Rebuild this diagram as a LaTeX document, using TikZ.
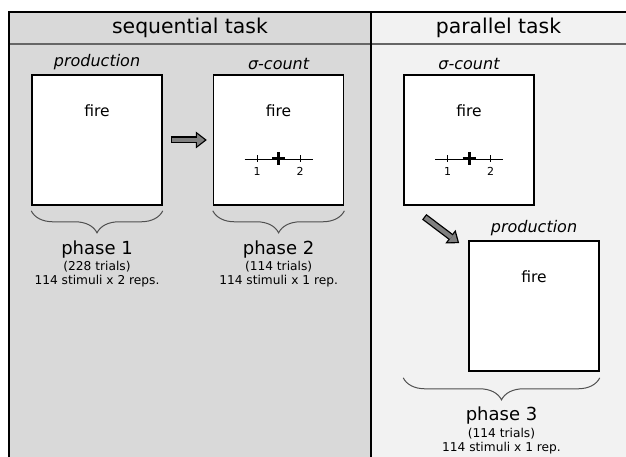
\documentclass[tikz,border=0pt]{standalone}
\usepackage{fontspec}
\setmainfont{DejaVu Sans}
\usetikzlibrary{positioning,calc,arrows.meta,decorations.pathreplacing}
\definecolor{seqbg}{HTML}{D9D9D9}
\definecolor{parbg}{HTML}{F2F2F2}
\definecolor{arrgray}{HTML}{808080}
\definecolor{bracegray}{HTML}{505050}

\begin{document}
\begin{tikzpicture}
[
    x=1pt, y=-1pt,
    headtxt/.style={font=\fontsize{20.4}{24}\selectfont, inner sep=0pt},
    screen/.style={draw=black, line width=1.6pt, fill=white, minimum width=130pt, minimum height=130pt, inner sep=0pt},
    tasklbl/.style={font=\fontsize{16}{19}\selectfont\itshape, inner sep=1pt},
    word/.style={font=\fontsize{15.5}{18}\selectfont, inner sep=0pt},
    numtxt/.style={font=\fontsize{11}{13}\selectfont, inner sep=0pt},
    phasetxt/.style={font=\fontsize{18}{21}\selectfont, inner sep=0pt},
    trialtxt/.style={font=\fontsize{12.2}{14}\selectfont, inner sep=0pt},
    phasebrace/.style={decorate, decoration={brace, mirror, amplitude=22pt}, draw=bracegray, line width=1pt},
    arrout/.style={draw=black, line width=7pt, -{Triangle[length=11pt, width=17pt, line width=0pt]}},
    arrin/.style={draw=arrgray, line width=4.4pt, shorten <=1.3pt, shorten >=2.1pt, -{Triangle[length=7.6pt, width=11.7pt, line width=0pt]}},
]
\useasboundingbox (0,0) rectangle (626,457);
% panels
\fill[seqbg] (9,12) rectangle (371,457);
\fill[parbg] (371,12) rectangle (626,457);
\draw[gray!80!black, line width=1.5pt] (9,44) -- (626,44);
\draw[line width=2pt] (9,457) -- (9,12) -- (626,12);
\draw[line width=2.4pt] (371,12) -- (371,457);
\node[headtxt] (seqhead) at (190,28) {sequential task};
\node[headtxt] (parhead) at (498.5,28) {parallel task};

% screens
\node[screen] (prod1) at (97,140) {};
\node[screen, right=50pt of prod1] (count1) {};
\node[screen] (count2) at (469,140) {};
\node[screen] (prod2) at (534,306) {};

\node[tasklbl, above=3pt of prod1] (prod1lbl) {production};
\node[tasklbl, above=3pt of count1] (count1lbl) {σ-count};
\node[tasklbl, above=3pt of count2] (count2lbl) {σ-count};
\node[tasklbl, above=3pt of prod2] (prod2lbl) {production};

\foreach \s in {prod1,count1,count2,prod2}
    \node[word] (\s-fire) at ($(\s.north)+(0,37)$) {fire};

% rating scale
\foreach \s in {count1,count2}{
    \draw[line width=0.9pt] ($(\s.center)+(-34,19)$) -- ($(\s.center)+(34,19)$);
    \draw[line width=0.9pt] ($(\s.center)+(-21.5,15.5)$) -- ++(0,7);
    \draw[line width=0.9pt] ($(\s.center)+(21.5,15.5)$) -- ++(0,7);
    \draw[line width=3pt] ($(\s.center)+(-6.5,19)$) -- ++(13,0);
    \draw[line width=3pt] ($(\s.center)+(0,12.5)$) -- ++(0,13);
    \node[numtxt] (\s-one) at ($(\s.center)+(-21.5,31)$) {1};
    \node[numtxt] (\s-two) at ($(\s.center)+(21.5,31)$) {2};
}

% arrows
\coordinate (a1s) at ($(prod1.east)+(8,0)$);
\coordinate (a1e) at ($(count1.west)+(-6,0)$);
\draw[arrout] (a1s) -- (a1e);
\draw[arrin] (a1s) -- (a1e);
\coordinate (a2s) at ($(count2.south west)+(21,11)$);
\coordinate (a2e) at ($(prod2.north west)+(-9,3)$);
\draw[arrout] (a2s) -- (a2e);
\draw[arrin] (a2s) -- (a2e);

% phases
\draw[phasebrace] ($(prod1.south west)+(0,5)$) -- ($(prod1.south east)+(0,5)$);
\node[phasetxt] (ph1) at ($(prod1.south)+(0,43.5)$) {phase 1};
\node[trialtxt] (tr1) at ($(prod1.south)+(0,61)$) {(228 trials)};
\node[trialtxt] (st1) at ($(prod1.south)+(0,75)$) {114 stimuli x 2 reps.};

\draw[phasebrace] ($(count1.south west)+(0,5)$) -- ($(count1.south east)+(0,5)$);
\node[phasetxt] (ph2) at ($(count1.south)+(0,43.5)$) {phase 2};
\node[trialtxt] (tr2) at ($(count1.south)+(0,61)$) {(114 trials)};
\node[trialtxt] (st2) at ($(count1.south)+(0,75)$) {114 stimuli x 1 rep.};

\coordinate (mid3) at ($(count2.west|-prod2.south)!0.5!(prod2.south east)$);
\draw[phasebrace] ($(count2.west|-prod2.south)+(0,6)$) -- ($(prod2.south east)+(0,6)$);
\node[phasetxt] (ph3) at ($(mid3)+(0,44)$) {phase 3};
\node[trialtxt] (tr3) at ($(mid3)+(0,62)$) {(114 trials)};
\node[trialtxt] (st3) at ($(mid3)+(0,76.5)$) {114 stimuli x 1 rep.};
\end{tikzpicture}
\end{document}
